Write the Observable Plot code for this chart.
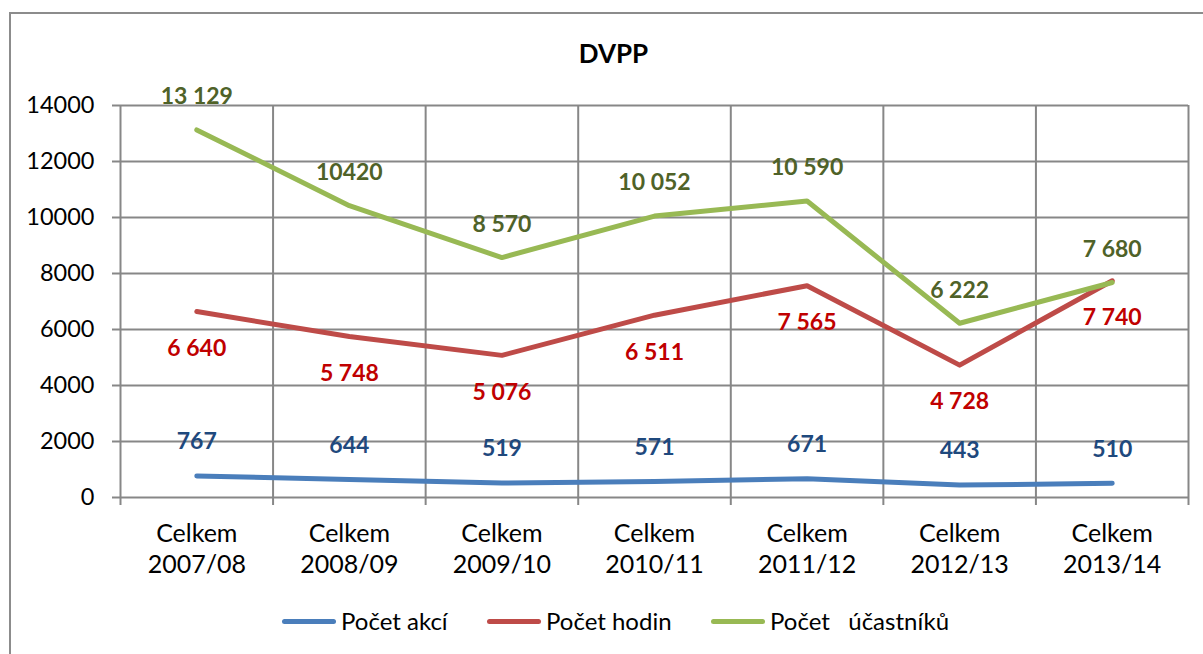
<!DOCTYPE html>
<html>
<head>
<meta charset="utf-8">
<script src="https://cdn.jsdelivr.net/npm/d3@7"></script>
<script src="https://cdn.jsdelivr.net/npm/@observablehq/plot@0.6"></script>
<style>
  body { margin: 0; background: #fff; font-family: Lato, "Open Sans", sans-serif; }
  #wrap { position: relative; width: 1203px; height: 654px; overflow: hidden; background: #fff; }
  #frame { position: absolute; left: 9px; top: 12px; width: 1400px; height: 900px; border-left: 2px solid #8c8c8c; border-top: 2px solid #8c8c8c; pointer-events: none; }
  #title { position: relative; height: 80px; box-sizing: border-box; padding-top: 39px; padding-left: 24px; text-align: center; font-weight: bold; font-size: 26px; line-height: 28px; color: #000; }
  #chart { position: relative; height: 507px; }
  #chart svg { display: block; }
  #legend { position: relative; height: 67px; font-size: 24px; color: #000; }
  .item { position: absolute; top: 19px; height: 30px; line-height: 30px; white-space: pre; }
  .sw { position: absolute; top: 13px; width: 54px; height: 5px; border-radius: 3px; }
  .lab { position: absolute; left: 59px; top: 0; }
</style>
</head>
<body>
<div id="wrap">
  <div id="frame"></div>
  <div id="title">DVPP</div>
  <div id="chart"></div>
  <div id="legend"></div>
</div>
<script>
// ---- data ----
const categories = ["2007/08", "2008/09", "2009/10", "2010/11", "2011/12", "2012/13", "2013/14"];
const categoryPrefix = "Celkem";
const seriesNames = ["Počet akcí", "Počet hodin", "Počet   účastníků"];
const pocetAkci = [767, 644, 519, 571, 671, 443, 510];
const pocetHodin = [6640, 5748, 5076, 6511, 7565, 4728, 7740];
const pocetUcastniku = [13129, 10420, 8570, 10052, 10590, 6222, 7680];
const akciLabels = ["767", "644", "519", "571", "671", "443", "510"];
const hodinLabels = ["6 640", "5 748", "5 076", "6 511", "7 565", "4 728", "7 740"];
const ucastnikuLabels = ["13 129", "10420", "8 570", "10 052", "10 590", "6 222", "7 680"];
const yTicks = [0, 2000, 4000, 6000, 8000, 10000, 12000, 14000];

const lineColors = ["#4A7EBB", "#BE4B48", "#98B954"];
const labelColors = ["#1F497D", "#C00000", "#4F6228"];

const idx = d3.range(categories.length);
const bounds = d3.range(categories.length + 1).map(i => i - 0.5);
const font = "Lato, 'Open Sans', sans-serif";
const grid = "#878787";

function seriesLine(values, color) {
  return Plot.line(idx, { x: i => i, y: i => values[i], stroke: color, strokeWidth: 5, strokeLinejoin: "round", strokeLinecap: "round" });
}
function seriesText(values, labels, color, dy) {
  return Plot.text(idx, { x: i => i, y: i => values[i], text: i => labels[i], dy, fill: color, fontWeight: "bold", fontSize: 23 });
}

const chart = Plot.plot({
  width: 1203,
  height: 507,
  marginTop: 25,
  marginLeft: 120,
  marginRight: 15,
  marginBottom: 90,
  x: { type: "linear", domain: [-0.5, categories.length - 0.5] },
  y: { domain: [0, 14000] },
  style: { fontFamily: font, fontSize: "24px", color: "#000", background: "transparent", overflow: "visible" },
  marks: [
    Plot.ruleY(yTicks, { stroke: grid, strokeWidth: 2, insetLeft: -8 }),
    Plot.ruleX(bounds, { stroke: grid, strokeWidth: 2, insetBottom: -8 }),
    Plot.axisY({ ticks: yTicks, tickSize: 0, tickPadding: 26, fontSize: 23.5, label: null, tickFormat: d => String(d) }),
    Plot.axisX({ ticks: idx, tickSize: 0, tickPadding: 22, fontSize: 25, lineHeight: 1.25, label: null, tickFormat: i => categoryPrefix + "\n" + categories[i] }),
    seriesLine(pocetAkci, lineColors[0]),
    seriesLine(pocetHodin, lineColors[1]),
    seriesLine(pocetUcastniku, lineColors[2]),
    seriesText(pocetAkci, akciLabels, labelColors[0], -34),
    seriesText(pocetHodin, hodinLabels, labelColors[1], 37),
    seriesText(pocetUcastniku, ucastnikuLabels, labelColors[2], -33)
  ]
});
document.getElementById("chart").appendChild(chart);

// legend
const legendX = [282, 487, 711];
const legend = document.getElementById("legend");
seriesNames.forEach((name, k) => {
  const item = document.createElement("div");
  item.className = "item";
  item.style.left = legendX[k] + "px";
  const sw = document.createElement("div");
  sw.className = "sw";
  sw.style.background = lineColors[k];
  const lab = document.createElement("span");
  lab.className = "lab";
  lab.textContent = name;
  item.appendChild(sw);
  item.appendChild(lab);
  legend.appendChild(item);
});
</script>
</body>
</html>
